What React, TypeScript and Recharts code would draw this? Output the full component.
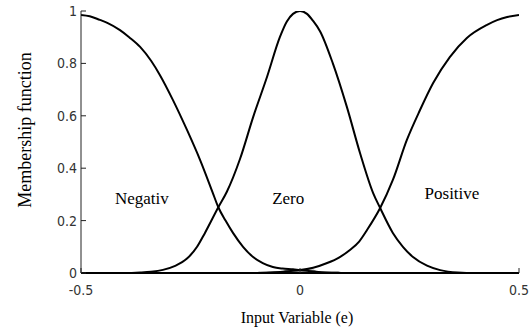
import { Label, Line, LineChart, ReferenceDot, XAxis, YAxis } from "recharts"

// input variable ticks and membership ticks
const xTicks = [-0.5, 0, 0.5]
const yTicks = [0, 0.2, 0.4, 0.6, 0.8, 1]

// "Negativ" membership function
const negativX = [-0.5, -0.48, -0.457, -0.44, -0.411, -0.39, -0.365, -0.34, -0.32, -0.29, -0.258, -0.228, -0.2, -0.1865, -0.17, -0.153, -0.13, -0.107, -0.085, -0.062, -0.04, -0.016, 0, 0.02, 0.05, 0.08, 0.1, 0.2, 0.3, 0.4, 0.5]
const negativY = [0.985, 0.98, 0.966, 0.955, 0.927, 0.9, 0.863, 0.81, 0.756, 0.66, 0.546, 0.431, 0.31, 0.251, 0.2, 0.153, 0.1, 0.061, 0.038, 0.023, 0.017, 0.014, 0.011, 0.008, 0.003, 0.001, 0, 0, 0, 0, 0]

// "Zero" membership function
const zeroX = [-0.5, -0.4, -0.365, -0.34, -0.313, -0.285, -0.258, -0.235, -0.217, -0.1865, -0.167, -0.137, -0.107, -0.075, -0.046, -0.03, -0.016, 0, 0.016, 0.03, 0.046, 0.075, 0.107, 0.137, 0.167, 0.183, 0.212, 0.235, 0.258, 0.29, 0.32, 0.36, 0.4, 0.5]
const zeroY = [0, 0, 0.002, 0.005, 0.012, 0.027, 0.055, 0.1, 0.153, 0.251, 0.31, 0.435, 0.595, 0.75, 0.9, 0.96, 0.989, 1, 0.989, 0.962, 0.922, 0.8, 0.634, 0.458, 0.305, 0.248, 0.153, 0.1, 0.061, 0.028, 0.011, 0.002, 0, 0]

// "Positive" membership function
const positiveX = [-0.5, -0.4, -0.3, -0.2, -0.1, -0.07, -0.04, -0.016, 0, 0.03, 0.062, 0.09, 0.114, 0.135, 0.153, 0.183, 0.212, 0.244, 0.274, 0.304, 0.342, 0.381, 0.427, 0.45, 0.473, 0.5]
const positiveY = [0, 0, 0, 0, 0, 0.002, 0.005, 0.009, 0.011, 0.02, 0.038, 0.06, 0.088, 0.12, 0.164, 0.248, 0.355, 0.508, 0.622, 0.725, 0.824, 0.897, 0.947, 0.965, 0.977, 0.985]

// grey trace lying on the axis around e = 0
const bumpX = [-0.095, -0.04, -0.03, 0.03, 0.04, 0.09]
const bumpY = [0, 0, 0.008, 0.008, 0, 0]

const toPoints = (xs: number[], ys: number[]) => xs.map((x, i) => ({ x, y: ys[i] }))

const negativData = toPoints(negativX, negativY)
const zeroData = toPoints(zeroX, zeroY)
const positiveData = toPoints(positiveX, positiveY)
const bumpData = toPoints(bumpX, bumpY)

const sans = "'Liberation Sans Narrow', 'Arial Narrow', 'DejaVu Sans Condensed', 'Liberation Sans', Arial, sans-serif"
const serif = "'Liberation Serif', 'Times New Roman', serif"
const frame = "#222"

function LeftTick({ x, y, payload }: any) {
  return (
    <g>
      <line x1={x} y1={y} x2={x + 5} y2={y} stroke={frame} />
      <text x={x - 4} y={y} textAnchor="end" dominantBaseline="central" fontFamily={sans} fontSize={14} fill="#333">
        {payload.value}
      </text>
    </g>
  )
}

function BottomTick({ x, y, payload }: any) {
  return (
    <g>
      <line x1={x} y1={y} x2={x} y2={y - 5} stroke={frame} />
      <text x={x} y={y + 17} textAnchor="middle" dominantBaseline="central" fontFamily={sans} fontSize={14} fill="#333">
        {payload.value}
      </text>
    </g>
  )
}

function RightTick({ x, y }: any) {
  return <line x1={x} y1={y} x2={x - 5} y2={y} stroke={frame} />
}

function TopTick({ x, y }: any) {
  return <line x1={x} y1={y} x2={x} y2={y + 5} stroke={frame} />
}

const regionLabel = (value: string) => ({
  value,
  position: "center" as const,
  fill: "#000",
  fontSize: 17,
  fontFamily: serif,
})

export default function App() {
  return (
    <div style={{ position: "absolute", left: 0, top: 0, background: "#fff" }}>
      <LineChart width={531} height={330} margin={{ top: 11, right: 12, bottom: 0, left: 0 }}>
        <XAxis
          xAxisId="bottom"
          type="number"
          dataKey="x"
          domain={[-0.5, 0.5]}
          ticks={xTicks}
          interval={0}
          height={57}
          tickSize={0}
          tickMargin={0}
          tick={<BottomTick />}
          axisLine={{ stroke: "#000", strokeWidth: 2 }}
          allowDataOverflow
        >
          <Label
            content={() => (
              <text x={297} y={323} textAnchor="middle" fontFamily={serif} fontSize={16} fill="#000">
                Input Variable (e)
              </text>
            )}
          />
        </XAxis>
        <XAxis
          xAxisId="top"
          orientation="top"
          type="number"
          dataKey="x"
          domain={[-0.5, 0.5]}
          ticks={xTicks}
          interval={0}
          height={0}
          tickSize={0}
          tickMargin={0}
          tick={<TopTick />}
          axisLine={{ stroke: frame }}
          allowDataOverflow
        />
        <YAxis
          yAxisId="left"
          type="number"
          domain={[0, 1]}
          ticks={yTicks}
          interval={0}
          width={81}
          tickSize={0}
          tickMargin={0}
          tick={<LeftTick />}
          axisLine={{ stroke: frame }}
          allowDataOverflow
        >
          <Label
            content={() => (
              <text
                transform="translate(25,130) rotate(-90)"
                textAnchor="middle"
                dominantBaseline="central"
                fontFamily={serif}
                fontSize={18}
                fill="#000"
              >
                Membership function
              </text>
            )}
          />
        </YAxis>
        <YAxis
          yAxisId="right"
          orientation="right"
          type="number"
          domain={[0, 1]}
          ticks={yTicks}
          interval={0}
          width={0}
          tickSize={0}
          tickMargin={0}
          tick={<RightTick />}
          axisLine={{ stroke: frame }}
          allowDataOverflow
        />
        <Line
          xAxisId="top"
          yAxisId="right"
          data={bumpData}
          dataKey="y"
          type="linear"
          stroke="#999"
          strokeWidth={3}
          dot={false}
          isAnimationActive={false}
        />
        <Line
          xAxisId="bottom"
          yAxisId="left"
          data={negativData}
          dataKey="y"
          type="monotone"
          stroke="#000"
          strokeWidth={2}
          dot={false}
          isAnimationActive={false}
        />
        <Line
          xAxisId="bottom"
          yAxisId="left"
          data={zeroData}
          dataKey="y"
          type="monotone"
          stroke="#000"
          strokeWidth={2}
          dot={false}
          isAnimationActive={false}
        />
        <Line
          xAxisId="bottom"
          yAxisId="left"
          data={positiveData}
          dataKey="y"
          type="monotone"
          stroke="#000"
          strokeWidth={2}
          dot={false}
          isAnimationActive={false}
        />
        <ReferenceDot xAxisId="bottom" yAxisId="left" x={-0.361} y={0.286} r={0} fill="none" stroke="none" label={regionLabel("Negativ")} />
        <ReferenceDot xAxisId="bottom" yAxisId="left" x={-0.027} y={0.286} r={0} fill="none" stroke="none" label={regionLabel("Zero")} />
        <ReferenceDot xAxisId="bottom" yAxisId="left" x={0.347} y={0.305} r={0} fill="none" stroke="none" label={regionLabel("Positive")} />
      </LineChart>
    </div>
  )
}
